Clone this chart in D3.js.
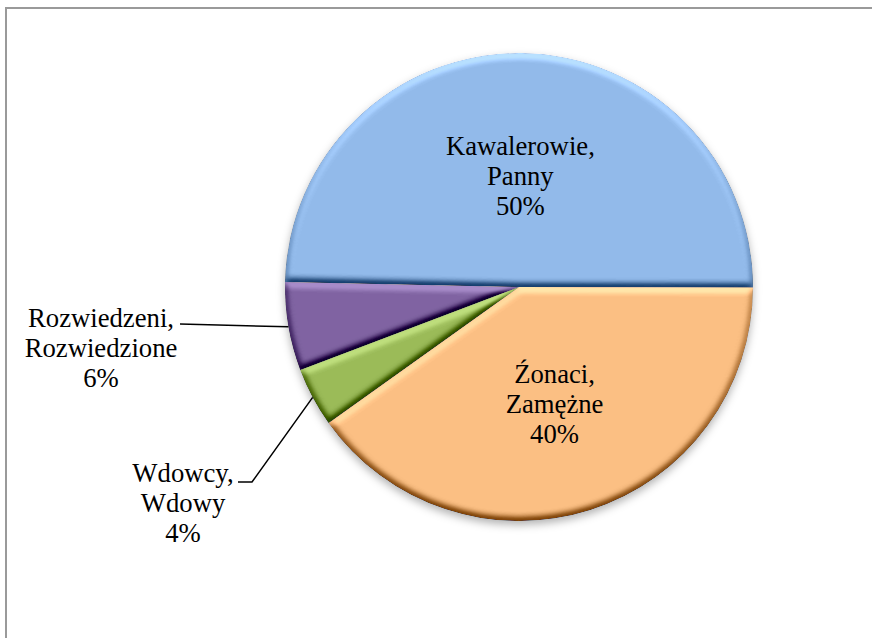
<!DOCTYPE html>
<html>
<head>
<meta charset="utf-8">
<script src="https://d3js.org/d3.v7.min.js"></script>
</head>
<body style="margin:0">

<script>
// stan cywilny - udzial procentowy
var categories = ["Kawalerowie, Panny", "Źonaci, Zamężne", "Wdowcy, Wdowy", "Rozwiedzeni, Rozwiedzione"];
var labelLines = [["Kawalerowie,", "Panny"], ["Źonaci,", "Zamężne"], ["Wdowcy,", "Wdowy"], ["Rozwiedzeni,", "Rozwiedzione"]];
var shares = [49.7, 40.1, 4.1, 6.1];
var sliceColors = ["#92baea", "#fbbf83", "#9bbb59", "#8064a2"];

var dims = {"width": 872, "height": 638};
var center = {"x": 519, "y": 287};
var radius = 234;
var lineH = 30;
// text is set at 30px and scaled down to ~26.7px
var fScale = 0.89;

var svg = d3.select("body")
  .append("svg")
    .attr("width", dims.width)
    .attr("height", dims.height);

// frame of the chart area (runs off the right and bottom edge)
svg.append("rect")
   .attr("x", 6).attr("y", 8)
   .attr("width", 900).attr("height", 700)
   .attr("fill", "#fff")
   .attr("stroke", "#9a9a9a")
   .attr("stroke-width", 2);

var defs = svg.append("defs");

// bevel look, light from the top
var bevel = defs.append("filter")
   .attr("id", "bevel")
   .attr("x", "-10%").attr("y", "-10%").attr("width", "120%").attr("height", "120%")
   .attr("color-interpolation-filters", "sRGB");
bevel.append("feGaussianBlur").attr("in", "SourceAlpha").attr("stdDeviation", 3.5).attr("result", "blur");
bevel.append("feDiffuseLighting")
   .attr("in", "blur").attr("surfaceScale", 4).attr("diffuseConstant", 1)
   .attr("lighting-color", "#fff").attr("result", "light")
   .append("feDistantLight").attr("azimuth", 270).attr("elevation", 55);
bevel.append("feComposite")
   .attr("in", "SourceGraphic").attr("in2", "light").attr("operator", "arithmetic")
   .attr("k1", 0).attr("k2", 1).attr("k3", 0.85).attr("k4", -0.696).attr("result", "lit");
bevel.append("feComposite").attr("in", "lit").attr("in2", "SourceAlpha").attr("operator", "in");

// soft shadow under the whole pie
var shadow = defs.append("filter")
   .attr("id", "shadow")
   .attr("x", "-10%").attr("y", "-10%").attr("width", "120%").attr("height", "125%");
shadow.append("feDropShadow")
   .attr("dx", 0).attr("dy", 4).attr("stdDeviation", 4)
   .attr("flood-color", "#000").attr("flood-opacity", 0.3);

var startA = -88.8 * Math.PI / 180;
var pie = d3.pie()
   .sort(null)
   .value(function (d) { return d; })
   .startAngle(startA)
   .endAngle(startA + 2 * Math.PI);

var arcs = pie(shares);

var arc = d3.arc().innerRadius(0).outerRadius(radius);
var rimArc = d3.arc().innerRadius(radius).outerRadius(radius);

var g = svg.append("g")
   .attr("transform", "translate(" + center.x + "," + center.y + ")");

g.append("g")
   .attr("filter", "url(#shadow)")
   .selectAll("path.slice")
   .data(arcs).enter()
   .append("path")
   .attr("class", "slice")
   .attr("d", arc)
   .attr("fill", function (d, i) { return sliceColors[i]; })
   .attr("filter", "url(#bevel)");

function pct(v) { return Math.round(v) + "%"; }

// one text per line, placed in page coordinates
function addLabel(x, y, lines) {
  lines.forEach(function (s, k) {
    svg.append("text")
       .attr("transform", "translate(" + x + "," + (y + k * lineH) + ") scale(" + fScale + ")")
       .attr("text-anchor", "middle")
       .attr("font-family", "Liberation Serif")
       .style("font-family", "'Liberation Serif', 'Tinos', 'Times New Roman', monospace")
       .style("font-size", "30px")
       .attr("fill", "#000")
       .text(s);
  });
}

// labels inside the two big slices
arcs.filter(function (d) { return d.value > 20; }).forEach(function (d) {
  var c = arc.centroid(d);
  addLabel(center.x + c[0], center.y + c[1] + 15 - lineH, labelLines[d.index].concat([pct(d.value)]));
});

// labels outside, with leader lines, for the small slices
var outside = {2: {"x": 183, "y": 482, "lineX": 238, "elbow": true},
               3: {"x": 101, "y": 327, "lineX": 180, "elbow": false}};
arcs.filter(function (d) { return d.value <= 20; }).forEach(function (d) {
  var pos = outside[d.index];
  addLabel(pos.x, pos.y, labelLines[d.index].concat([pct(d.value)]));
  var rim = rimArc.centroid(d);
  var rx = center.x + rim[0], ry = center.y + rim[1];
  var pts;
  if (pos.elbow) {
    pts = [[pos.lineX, pos.y], [pos.lineX + 14, pos.y], [rx, ry]];
  } else {
    pts = [[pos.lineX, pos.y - 3], [rx, ry]];
  }
  svg.append("path")
     .attr("d", d3.line()(pts))
     .attr("fill", "none")
     .attr("stroke", "#000")
     .attr("stroke-width", 1.5);
});
</script>
</body>
</html>
